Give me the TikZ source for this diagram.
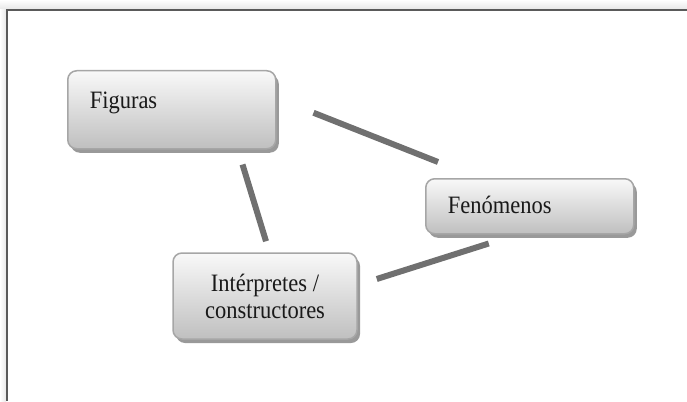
\documentclass[tikz,border=0pt]{standalone}
\usepackage{fontspec}
\setmainfont[FakeStretch=0.9]{Liberation Serif}
\usetikzlibrary{shadows}
\definecolor{linkgray}{HTML}{707070}
\definecolor{framegray}{HTML}{5A5A5A}
\tikzset{
  box/.style={rectangle, rounded corners=9pt, draw=gray!70, line width=1.5pt,
    top color=gray!5, bottom color=gray!50,
    drop shadow={shadow xshift=3pt, shadow yshift=-4pt, fill=gray!80, opacity=1},
    font=\fontsize{25}{27}\selectfont, text=black!90},
  link/.style={draw=linkgray, line width=6pt},
}
\begin{document}
\begin{tikzpicture}[x=1pt, y=-1pt]
    \useasboundingbox (0,0) rectangle (687,401);
    %% frame
    \shade[top color=white, bottom color=gray!18] (0,0) rectangle (687,9);
    \shade[left color=white, right color=gray!18] (0,10) rectangle (6,401);
    \draw[framegray, line width=1.5pt] (7,401) -- (7,10) -- (687,10);
    %% boxes
    \node[box, anchor=north west, inner xsep=22pt, inner ysep=0pt, text width=164pt, text height=38pt, text depth=40pt, align=left] (fig) at (67,70) {Figuras};
    \node[box, anchor=north west, inner xsep=22pt, inner ysep=0pt, text width=164pt, text height=35pt, text depth=20pt, align=left] (fen) at (425,178) {Fenómenos};
    \node[box, minimum width=184pt, minimum height=86pt, align=center] (int) at (265,296) {Intérpretes /\\constructores};
    %% links
    \draw[link] ([shift={(37,3)}]fig.east) -- ([shift={(13,-16)}]fen.north west); %% fig - fen
    \draw[link] ([shift={(-34,15)}]fig.south east) -- ([shift={(1,-11)}]int.north); %% fig - int
    \draw[link] ([shift={(19,-17)}]int.east) -- ([shift={(-41,9)}]fen.south); %% int - fen
\end{tikzpicture}
\end{document}
